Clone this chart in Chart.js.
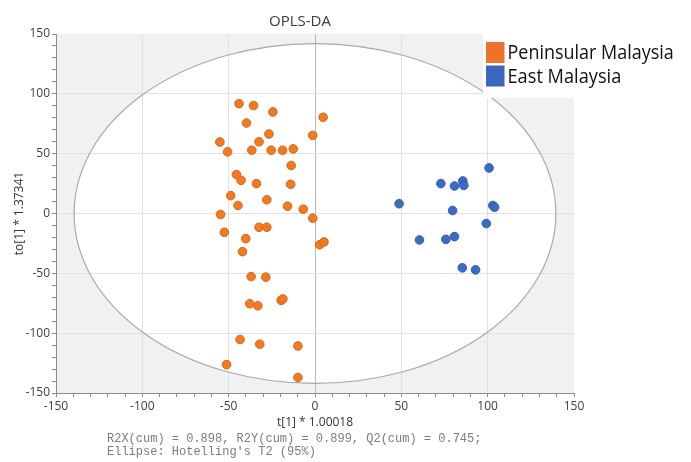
<!DOCTYPE html>
<html>
<head>
<meta charset="utf-8">
<script src="https://cdn.jsdelivr.net/npm/chart.js@4.4.0/dist/chart.umd.min.js"></script>
<style>
  html, body { margin: 0; padding: 0; background: #ffffff; }
  #wrap { width: 691px; height: 462px; }
</style>
</head>
<body>
<div id="wrap"><canvas id="c" width="691" height="462"></canvas></div>
<script>
// Score plot texts
const chartTitle = 'OPLS-DA';
const xTitle = 't[1] * 1.00018';
const yTitle = 'to[1] * 1.37341';
const footnoteLines = [
  'R2X(cum) = 0.898, R2Y(cum) = 0.899, Q2(cum) = 0.745;',
  "Ellipse: Hotelling's T2 (95%)"
];
const seriesNames = ['Peninsular Malaysia', 'East Malaysia'];

// Axis range and ticks (labels every 50, minor ticks every 10)
const axisMin = -150;
const axisMax = 150;
const majorStep = 50;
const minorStep = 10;

// Hotelling's T2 (95%) ellipse half-axes in score units
const ellipseRadiusX = 139.5;
const ellipseRadiusY = 142;

// Scores: Peninsular Malaysia
const peninsularX = [-44.0, -35.6, -24.4, 4.7, -39.7, -26.7, -1.3, -55.1, -32.4, -50.6,
  -36.6, -25.4, -18.8, -12.6, -13.8, -45.5, -42.8, -33.9, -14.1, -48.8,
  -44.6, -27.9, -15.9, -6.8, -1.3, -54.7, -52.5, -32.4, -27.9, -40.1,
  2.7, 5.2, -42.0, -37.0, -28.5, -37.8, -33.1, -19.6, -18.6, -43.4,
  -32.0, -9.9, -51.2, -9.9];
const peninsularY = [91.8, 90.2, 84.9, 80.4, 75.6, 66.4, 65.3, 59.7, 59.9, 51.5,
  52.9, 52.9, 52.9, 54.0, 40.1, 32.5, 27.7, 25.0, 24.4, 14.9,
  6.7, 11.5, 6.1, 3.6, -3.9, -0.8, -15.7, -11.5, -11.5, -21.0,
  -26.1, -23.8, -31.9, -52.7, -53.2, -75.4, -77.1, -72.6, -71.4, -105.3,
  -109.2, -110.7, -126.3, -137.0];

// Scores: East Malaysia
const eastX = [100.8, 72.9, 80.8, 85.6, 86.2, 48.7, 103.0, 104.0, 79.7, 99.2,
  60.5, 75.8, 80.8, 85.3, 93.0];
const eastY = [38.1, 25.0, 23.0, 27.2, 23.5, 8.2, 6.7, 5.3, 2.5, -8.4,
  -22.1, -21.6, -19.3, -45.4, -47.1];

const seriesColors = ['#f27b22', '#3b6cc2'];
const seriesEdges = ['#d7661a', '#2f5dad'];
const legendColors = ['#f0712a', '#3a66bd'];

function toPoints(xs, ys) {
  return xs.map((x, i) => ({ x: x, y: ys[i] }));
}

function isMajor(v) {
  return Math.abs(v % majorStep) < 1e-9;
}

// Grey plot panel with the white confidence ellipse behind the grid
const panelPlugin = {
  id: 'panel',
  beforeDraw(chart) {
    const { ctx, chartArea: a, scales: { x, y } } = chart;
    ctx.save();
    ctx.fillStyle = '#f1f1f1';
    ctx.fillRect(a.left, a.top, a.right - a.left, a.bottom - a.top);
    const cx = x.getPixelForValue(0), cy = y.getPixelForValue(0);
    const rx = Math.abs(x.getPixelForValue(ellipseRadiusX) - cx);
    const ry = Math.abs(y.getPixelForValue(ellipseRadiusY) - cy);
    ctx.beginPath();
    ctx.ellipse(cx, cy, rx, ry, 0, 0, Math.PI * 2);
    ctx.fillStyle = '#ffffff';
    ctx.fill();
    ctx.restore();
  },
  beforeDatasetsDraw(chart) {
    const { ctx, scales: { x, y } } = chart;
    const cx = x.getPixelForValue(0), cy = y.getPixelForValue(0);
    const rx = Math.abs(x.getPixelForValue(ellipseRadiusX) - cx);
    const ry = Math.abs(y.getPixelForValue(ellipseRadiusY) - cy);
    ctx.save();
    ctx.beginPath();
    ctx.ellipse(cx, cy, rx, ry, 0, 0, Math.PI * 2);
    ctx.strokeStyle = '#a9a9a9';
    ctx.lineWidth = 1.2;
    ctx.stroke();
    ctx.restore();
  }
};

// Title, legend and model statistics
const annotationsPlugin = {
  id: 'annotations',
  afterDraw(chart) {
    const { ctx, chartArea: a } = chart;
    ctx.save();

    // title
    ctx.fillStyle = '#3a3a3a';
    ctx.font = '15px "Open Sans"';
    ctx.textAlign = 'center';
    ctx.textBaseline = 'alphabetic';
    ctx.fillText(chartTitle, 300, 26);

    // legend
    ctx.fillStyle = '#ffffff';
    ctx.fillRect(483, a.top, a.right - 483 + 1, 64);
    const rows = [{ top: 42, base: 58.5 }, { top: 65.5, base: 82.5 }];
    chart.data.datasets.forEach((ds, i) => {
      ctx.fillStyle = legendColors[i];
      ctx.fillRect(486, rows[i].top, 18.5, 21);
      ctx.fillStyle = '#111111';
      ctx.font = '20px "Open Sans"';
      ctx.textAlign = 'left';
      const w = ctx.measureText(ds.label).width;
      const target = ds.label.length * 8.75;
      ctx.save();
      ctx.translate(507.5, rows[i].base);
      ctx.scale(target / w, 1);
      ctx.fillText(ds.label, 0, 0);
      ctx.restore();
    });

    // footnote
    ctx.fillStyle = '#7c7c7c';
    ctx.font = '12px "Liberation Mono"';
    ctx.textAlign = 'left';
    footnoteLines.forEach((line, i) => {
      ctx.fillText(line, 107, 442 + i * 13);
    });
    ctx.restore();
  }
};

const tickFont = { family: 'Open Sans', size: 12 };

function axisOptions(titleText, titlePadding, fitSize, horizontal) {
  return {
    type: 'linear',
    min: axisMin,
    max: axisMax,
    afterBuildTicks(scale) {
      const ticks = [];
      for (let v = axisMin; v <= axisMax; v += minorStep) ticks.push({ value: v });
      scale.ticks = ticks;
    },
    afterFit(scale) {
      if (horizontal) scale.height = fitSize; else scale.width = fitSize;
    },
    ticks: {
      autoSkip: false,
      maxRotation: 0,
      padding: 2,
      color: '#404040',
      font: tickFont,
      callback: (v) => (isMajor(v) ? String(v) : '')
    },
    grid: {
      drawTicks: true,
      tickLength: 4,
      tickColor: '#8c8c8c',
      lineWidth: 1,
      color(ctx) {
        const v = ctx.tick ? ctx.tick.value : null;
        if (v === null || !isMajor(v) || Math.abs(v) === axisMax) return 'rgba(0,0,0,0)';
        if (v === 0 && horizontal) return '#b9b9b9';
        return '#e2e2e2';
      }
    },
    border: { display: true, color: '#8c8c8c', width: 1 },
    title: {
      display: true,
      text: titleText,
      color: '#333333',
      font: { family: 'Open Sans', size: 12 },
      padding: titlePadding
    }
  };
}

new Chart(document.getElementById('c'), {
  type: 'scatter',
  data: {
    datasets: [
      {
        label: seriesNames[0],
        data: toPoints(peninsularX, peninsularY),
        backgroundColor: seriesColors[0],
        borderColor: seriesEdges[0],
        borderWidth: 1,
        pointRadius: 4.3,
        pointHoverRadius: 4.3
      },
      {
        label: seriesNames[1],
        data: toPoints(eastX, eastY),
        backgroundColor: seriesColors[1],
        borderColor: seriesEdges[1],
        borderWidth: 1,
        pointRadius: 4.3,
        pointHoverRadius: 4.3
      }
    ]
  },
  options: {
    responsive: false,
    animation: false,
    devicePixelRatio: 1,
    layout: { padding: { top: 34, right: 117, bottom: 29, left: 0 } },
    plugins: {
      legend: { display: false },
      title: { display: false },
      tooltip: { enabled: false }
    },
    scales: {
      x: axisOptions(xTitle, { top: 0, bottom: 2.8 }, 40, true),
      y: axisOptions(yTitle, { top: 12.8, bottom: 0 }, 56, false)
    }
  },
  plugins: [panelPlugin, annotationsPlugin]
});
</script>
</body>
</html>
